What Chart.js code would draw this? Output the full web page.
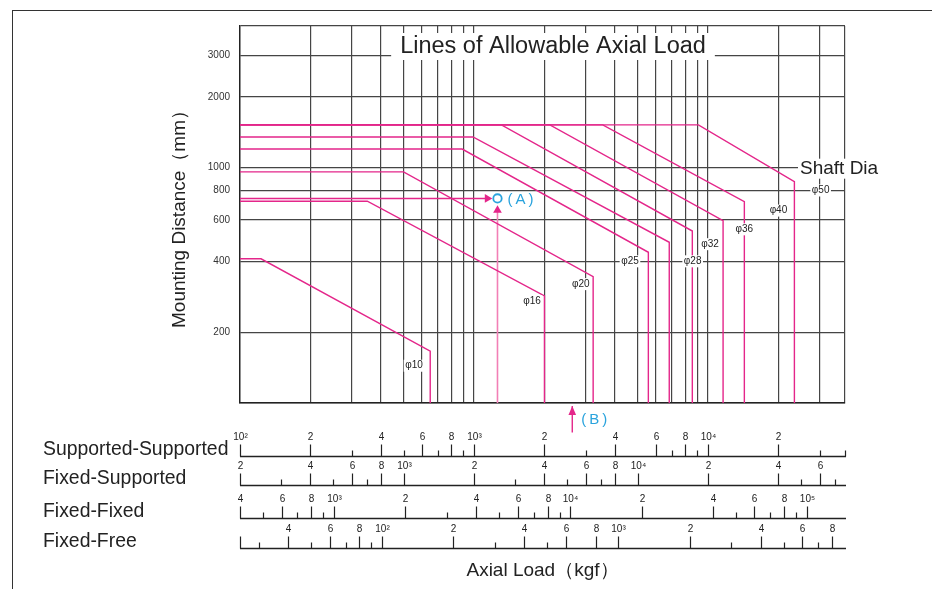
<!DOCTYPE html>
<html>
<head>
<meta charset="utf-8">
<script src="https://cdn.jsdelivr.net/npm/chart.js@4"></script>
<style>
  body { margin: 0; background: #fff; }
  #frame { position: absolute; left: 12px; top: 10px; width: 940px; height: 600px;
           border-left: 1.5px solid #333; border-top: 1.5px solid #333; }
  canvas { position: absolute; left: 0; top: 0; }
</style>
</head>
<body>
<div id="frame"></div>
<canvas id="chart" width="932" height="589"></canvas>
<script>
Chart.defaults.font.family = '"Liberation Sans", Arial, sans-serif'
Chart.defaults.color = '#333'

const chartTitle = 'Lines of Allowable Axial Load'

// axes (x = Supported-Supported load, kgf / y = mounting distance, mm)
const xMin = 100, xMax = 38500
const yMin = 100, yMax = 4000
const xGrid = [100, 200, 300, 400, 500, 600, 700, 800, 900,
  1000, 2000, 3000, 4000, 5000, 6000, 7000, 8000, 9000,
  10000, 20000, 30000, 38500]
const yGrid = [100, 200, 400, 600, 800, 1000, 2000, 3000, 4000]
const yTickLabels = [200, 400, 600, 800, 1000, 2000, 3000]

// one pink line per shaft dia: flat part, slope, then vertical limit
const shaftDia   = [10, 16, 20, 25, 28, 32, 36, 40, 50]
const flatDist   = [410, 720, 960, 1200, 1350, 1520, 1520, 1520, 1520]
const kneeLoad   = [123, 350, 500, 890, 990, 1310, 2110, 3550, 9100]
const limitLoad  = [650, 2000, 3230, 5560, 6830, 8570, 11600, 14300, 23400]
const cornerDist = [166, 285, 344, 437, 482, 538, 595, 717, 872]
const labelLoad  = [554, 1770, 2860, 4640, 8600, 10200, 14300, 20000, 30300]
const labelDist  = [144, 271, 320, 400, 400, 473, 547, 657, 800]

// example (A) and (B)
const pointALoad = 1260, pointADist = 740
const arrowAEndLoad = 1140, arrowATipDist = 660
const pointBLoad = 2630, arrowBFrom = 75, arrowBTo = 97

// the four bearing-condition scales under the chart
const rowNames = ['Supported-Supported', 'Fixed-Supported', 'Fixed-Fixed', 'Fixed-Free']
const ssRange = [100, 38500]
const ssMajor = [100, 200, 400, 600, 800, 1000, 2000, 4000, 6000, 8000, 10000, 20000]
const ssText  = ['10²', '2', '4', '6', '8', '10³', '2', '4', '6', '8', '10⁴', '2']
const ssMinor = [300, 500, 700, 900, 3000, 7000, 9000, 30000, 38500]
const fsRange = [200, 77000]
const fsMajor = [200, 400, 600, 800, 1000, 2000, 4000, 6000, 8000, 10000, 20000, 40000, 60000]
const fsText  = ['2', '4', '6', '8', '10³', '2', '4', '6', '8', '10⁴', '2', '4', '6']
const fsMinor = [300, 500, 700, 3000, 5000, 7000, 50000, 70000]
const ffRange = [400, 145000]
const ffMajor = [400, 600, 800, 1000, 2000, 4000, 6000, 8000, 10000, 20000, 40000, 60000, 80000, 100000]
const ffText  = ['4', '6', '8', '10³', '2', '4', '6', '8', '10⁴', '2', '4', '6', '8', '10⁵']
const ffMinor = [500, 700, 900, 3000, 5000, 7000, 9000, 50000, 70000, 90000]
const frRange = [25, 9100]
const frMajor = [25, 40, 60, 80, 100, 200, 400, 600, 800, 1000, 2000, 4000, 6000, 8000]
const frText  = ['', '4', '6', '8', '10²', '2', '4', '6', '8', '10³', '2', '4', '6', '8']
const frMinor = [30, 50, 70, 90, 300, 500, 3000, 5000, 7000]

const pink = '#e4268a'
const lightPink = '#f27fb6'
const blue = '#2aa3dd'
const gridColor = '#454545'

const font = size => `${size}px "Liberation Sans", Arial, sans-serif`

const datasets = shaftDia.map((d, i) => ({
  label: 'φ' + d,
  data: [
    { x: xMin, y: flatDist[i] },
    { x: kneeLoad[i], y: flatDist[i] },
    { x: limitLoad[i], y: cornerDist[i] },
    { x: limitLoad[i], y: yMin }
  ],
  borderColor: pink,
  borderWidth: 1.4,
  pointRadius: 0
}))

// (A): horizontal arrow, vertical arrow, circle
datasets.push({
  data: [{ x: xMin, y: pointADist }, { x: arrowAEndLoad, y: pointADist }],
  borderColor: pink, borderWidth: 1.4,
  pointRadius: [0, 5], pointStyle: 'triangle', rotation: 90,
  pointBackgroundColor: pink, pointBorderWidth: 0
})
datasets.push({
  data: [{ x: pointALoad, y: yMin }, { x: pointALoad, y: arrowATipDist }],
  borderColor: lightPink, borderWidth: 1.6,
  pointRadius: [0, 5], pointStyle: 'triangle', rotation: 0,
  pointBackgroundColor: pink, pointBorderWidth: 0
})
datasets.push({
  data: [{ x: pointALoad, y: pointADist }],
  showLine: false, order: -1,
  pointRadius: 4.2, pointStyle: 'circle',
  pointBackgroundColor: '#fff', pointBorderColor: blue, pointBorderWidth: 1.8
})
// (B): arrow shaft below the chart (head drawn in the plugin, points outside the area are skipped)
datasets.push({
  data: [{ x: pointBLoad, y: arrowBFrom }, { x: pointBLoad, y: arrowBTo }],
  borderColor: pink, borderWidth: 1.4, clip: false, pointRadius: 0
})

const hiddenLog = (range) => ({ type: 'logarithmic', position: 'bottom', display: false, min: range[0], max: range[1] })

const extras = {
  id: 'extras',
  afterDraw(chart) {
    const { ctx, chartArea: a, scales } = chart
    const x = scales.x, y = scales.y
    ctx.save()
    ctx.textBaseline = 'middle'

    // title box sitting on the grid
    ctx.font = font(23.5)
    const tw = ctx.measureText(chartTitle).width
    const tcx = a.left + 313, tcy = a.top + 21
    ctx.fillStyle = '#fff'
    ctx.fillRect(tcx - tw / 2 - 9, a.top + 7, tw + 18, 27)
    ctx.fillStyle = '#222'
    ctx.textAlign = 'center'
    ctx.fillText(chartTitle, tcx, tcy)

    // shaft dia labels
    ctx.font = font(10)
    shaftDia.forEach((d, i) => {
      const t = 'φ' + d
      const px = x.getPixelForValue(labelLoad[i])
      const py = y.getPixelForValue(labelDist[i])
      const w = ctx.measureText(t).width
      ctx.fillStyle = '#fff'
      ctx.fillRect(px - w / 2 - 1.5, py - 6, w + 3, 12)
      ctx.fillStyle = '#222'
      ctx.fillText(t, px, py)
    })

    // "Shaft Dia"
    ctx.font = font(19)
    ctx.textAlign = 'left'
    const sx = a.right - 45, sy = y.getPixelForValue(1000) + 1
    const sw = ctx.measureText('Shaft Dia').width
    ctx.fillStyle = '#fff'
    ctx.fillRect(sx - 2, sy - 10, sw + 4, 20)
    ctx.fillStyle = '#222'
    ctx.fillText('Shaft Dia', sx, sy)

    // head of arrow (B)
    const bx = x.getPixelForValue(pointBLoad), by = y.getPixelForValue(arrowBTo)
    ctx.fillStyle = pink
    ctx.beginPath()
    ctx.moveTo(bx, by)
    ctx.lineTo(bx - 3.8, by + 9)
    ctx.lineTo(bx + 3.8, by + 9)
    ctx.closePath()
    ctx.fill()

    // (A) and (B)
    ctx.font = font(15)
    ctx.fillStyle = blue
    ctx.fillText('(\u2009A\u2009)', x.getPixelForValue(pointALoad) + 10, y.getPixelForValue(pointADist) + 1)
    ctx.fillText('(\u2009B\u2009)', bx + 9, a.bottom + 17)

    // bearing condition scales
    const rows = [
      { id: 'ss', major: ssMajor, text: ssText, minor: ssMinor, dy: 53 },
      { id: 'fs', major: fsMajor, text: fsText, minor: fsMinor, dy: 82 },
      { id: 'ff', major: ffMajor, text: ffText, minor: ffMinor, dy: 115 },
      { id: 'fr', major: frMajor, text: frText, minor: frMinor, dy: 145 }
    ]
    const tick = (px, y0, y1) => {
      ctx.beginPath(); ctx.moveTo(px, y0); ctx.lineTo(px, y1); ctx.stroke()
    }
    ctx.strokeStyle = '#222'
    ctx.fillStyle = '#222'
    rows.forEach((r, k) => {
      const s = scales[r.id]
      const base = Math.round(a.bottom + r.dy) + 0.5
      ctx.lineWidth = 1.3
      ctx.beginPath(); ctx.moveTo(a.left, base); ctx.lineTo(a.right + 1, base); ctx.stroke()
      ctx.lineWidth = 1.2
      ctx.font = font(10)
      ctx.textAlign = 'center'
      r.major.forEach((v, i) => {
        const px = Math.round(s.getPixelForValue(v)) + 0.5
        tick(px, base, base - 12)
        ctx.fillText(r.text[i], px, base - 19)
      })
      r.minor.forEach(v => {
        const px = Math.round(s.getPixelForValue(v)) + 0.5
        tick(px, base, base - 6)
      })
      ctx.font = font(19.4)
      ctx.textAlign = 'left'
      ctx.fillText(rowNames[k], 43, base - 7)
    })
    ctx.restore()
  }
}

new Chart(document.getElementById('chart'), {
  type: 'line',
  data: { datasets },
  plugins: [extras],
  options: {
    responsive: false,
    animation: false,
    layout: { padding: { left: 150, top: 26, right: 87, bottom: 0 } },
    plugins: { legend: { display: false }, tooltip: { enabled: false } },
    elements: { line: { tension: 0 } },
    scales: {
      x: {
        type: 'logarithmic', position: 'bottom', min: xMin, max: xMax,
        afterBuildTicks: s => { s.ticks = xGrid.map(v => ({ value: v })) },
        afterFit: s => { s.height = 186 },
        ticks: { display: false },
        grid: { color: gridColor, lineWidth: 1.2, drawTicks: false },
        border: { color: '#222', width: 1.4 },
        title: { display: true, text: 'Axial Load（kgf）', color: '#222', font: { size: 19 }, padding: { top: 0, bottom: 7 } }
      },
      y: {
        type: 'logarithmic', min: yMin, max: yMax,
        afterBuildTicks: s => { s.ticks = yGrid.map(v => ({ value: v })) },
        afterFit: s => { s.width = 90 },
        ticks: {
          autoSkip: false, padding: 10, color: '#333', font: { size: 10 },
          callback: v => yTickLabels.includes(v) ? String(v) : ''
        },
        grid: { color: gridColor, lineWidth: 1.2, drawTicks: false },
        border: { color: '#222', width: 1.4 },
        title: { display: true, text: 'Mounting Distance（mm）', color: '#222', font: { size: 19 }, padding: { top: 18, bottom: 0 } }
      },
      ss: hiddenLog(ssRange),
      fs: hiddenLog(fsRange),
      ff: hiddenLog(ffRange),
      fr: hiddenLog(frRange)
    }
  }
})
</script>
</body>
</html>
